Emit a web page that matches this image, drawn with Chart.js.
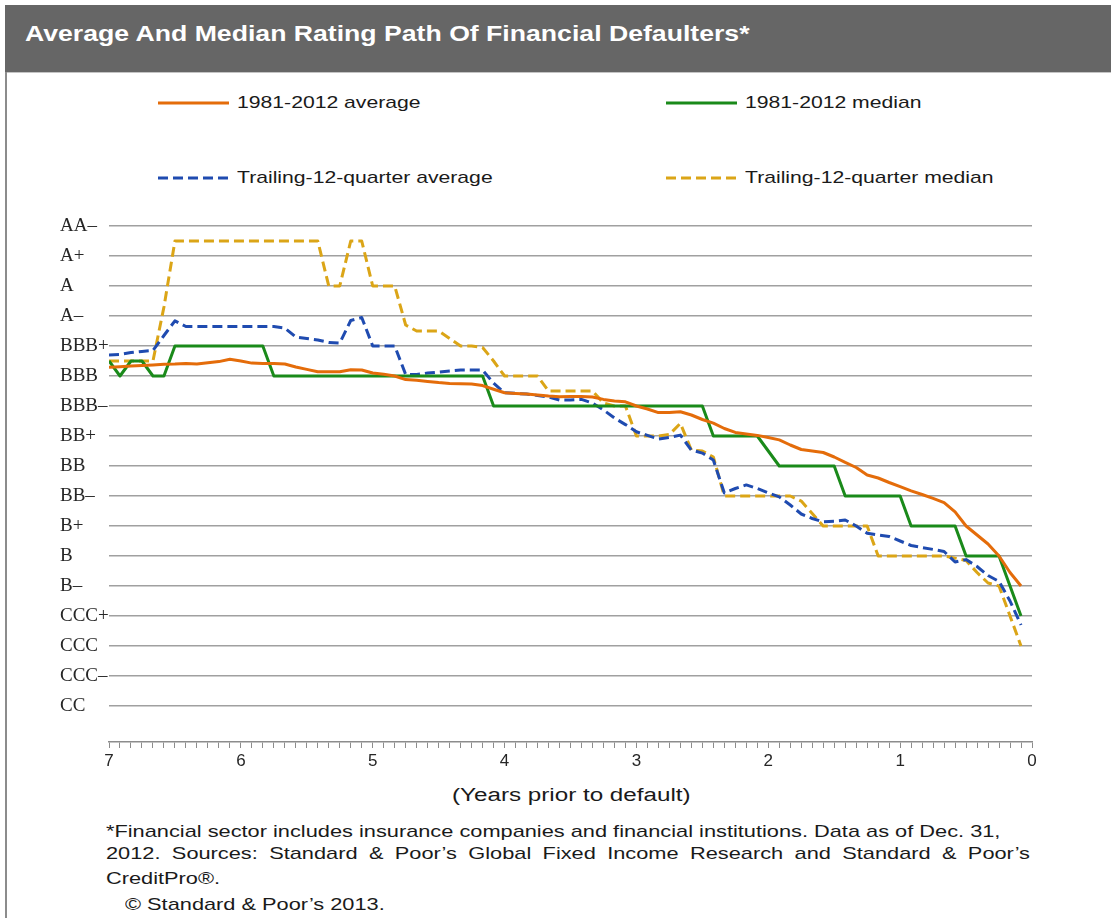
<!DOCTYPE html>
<html>
<head>
<meta charset="utf-8">
<title>Average And Median Rating Path Of Financial Defaulters</title>
<script src="https://cdn.jsdelivr.net/npm/chart.js@4.4.1/dist/chart.umd.min.js"></script>
<style>
    body { margin: 0; background: #fff; font-family: "Liberation Sans", Arial, sans-serif; }
    #page { position: relative; width: 1111px; height: 918px; overflow: hidden; background: #fff; }
    #titleBar { position: absolute; left: 5px; top: 5px; width: 1106px; height: 67px; background: #666666; border-bottom: 1px solid #c4c4c4; }
    #leftRule { position: absolute; left: 5px; top: 72px; width: 2px; height: 846px; background: #8c8c8c; }
    .txt { position: absolute; white-space: nowrap; transform-origin: 0 50%; }
    #titleText { left: 25px; top: 19px; line-height: 30px; font-size: 22px; font-weight: bold; color: #fff; }
    #xTitle { left: 452px; top: 783px; line-height: 24px; font-size: 18px; color: #1a1a1a; }
    .foot { left: 106px; line-height: 22px; font-size: 17px; color: #1a1a1a; }
    #chartCanvas { position: absolute; left: 0; top: 206px; }
    .legendItem { position: absolute; height: 24px; }
    .legendItem svg { position: absolute; left: 0; top: 9px; }
    .legendItem span { position: absolute; top: 0; line-height: 24px; font-size: 17px; color: #1a1a1a; white-space: nowrap; transform-origin: 0 50%; }
</style>
</head>
<body>
<div id="page">
    <div id="titleBar"></div>
    <div id="leftRule"></div>
    <div class="txt" id="titleText">Average And Median Rating Path Of Financial Defaulters*</div>
    <div id="legend"></div>
    <canvas id="chartCanvas" width="1111" height="574"></canvas>
    <div class="txt" id="xTitle">(Years prior to default)</div>
    <div class="txt foot" id="foot1" style="top:821px">*Financial sector includes insurance companies and financial institutions. Data as of Dec. 31,</div>
    <div class="txt foot" id="foot2" style="top:843px; text-align: justify; text-align-last: justify;">2012. Sources: Standard &amp; Poor’s Global Fixed Income Research and Standard &amp; Poor’s</div>
    <div class="txt foot" id="foot3" style="top:868px">CreditPro®.</div>
    <div class="txt foot" id="foot4" style="top:894px; left:125px">© Standard &amp; Poor’s 2013.</div>
</div>
<script>
// Rating path of financial defaulters (S&P, data as of Dec. 31, 2012)

// Rating scale, bottom to top (index = value on the y axis)
const ratingLabels = ['CC', 'CCC–', 'CCC', 'CCC+', 'B–', 'B', 'B+', 'BB–', 'BB', 'BB+',
    'BBB–', 'BBB', 'BBB+', 'A–', 'A', 'A+', 'AA–'];

// X axis tick labels, one per year (12 months)
const yearLabels = ['0', '1', '2', '3', '4', '5', '6', '7'];

// Months prior to default for every point
const monthsPrior = [
    84, 83, 82, 81, 80, 79, 78, 77, 76, 75, 74, 73,
    72, 71, 70, 69, 68, 67, 66, 65, 64, 63, 62, 61,
    60, 59, 58, 57, 56, 55, 54, 53, 52, 51, 50, 49,
    48, 47, 46, 45, 44, 43, 42, 41, 40, 39, 38, 37,
    36, 35, 34, 33, 32, 31, 30, 29, 28, 27, 26, 25,
    24, 23, 22, 21, 20, 19, 18, 17, 16, 15, 14, 13,
    12, 11, 10, 9, 8, 7, 6, 5, 4, 3, 2, 1
];

// 1981-2012 average
const avg8112 = [
    11.29, 11.31, 11.33, 11.35, 11.37, 11.39, 11.40, 11.42, 11.40, 11.44, 11.48, 11.56,
    11.50, 11.43, 11.42, 11.42, 11.40, 11.30, 11.22, 11.14, 11.14, 11.14, 11.21, 11.20,
    11.10, 11.06, 11.00, 10.88, 10.86, 10.82, 10.78, 10.75, 10.74, 10.73, 10.68, 10.56,
    10.44, 10.42, 10.40, 10.37, 10.33, 10.31, 10.32, 10.32, 10.30, 10.22, 10.17, 10.14,
    10.00, 9.90, 9.78, 9.78, 9.81, 9.70, 9.55, 9.43, 9.25, 9.12, 9.07, 9.02,
    8.95, 8.87, 8.70, 8.55, 8.50, 8.45, 8.30, 8.12, 7.95, 7.70, 7.60, 7.45,
    7.31, 7.17, 7.05, 6.92, 6.78, 6.47, 6.00, 5.70, 5.40, 5.00, 4.45, 4.00
];

// 1981-2012 median
const median8112 = [
    11.5, 11, 11.5, 11.5, 11, 11, 12, 12, 12, 12, 12, 12,
    12, 12, 12, 11, 11, 11, 11, 11, 11, 11, 11, 11,
    11, 11, 11, 11, 11, 11, 11, 11, 11, 11, 11, 10,
    10, 10, 10, 10, 10, 10, 10, 10, 10, 10, 10, 10,
    10, 10, 10, 10, 10, 10, 10, 9, 9, 9, 9, 9,
    8.5, 8, 8, 8, 8, 8, 8, 7, 7, 7, 7, 7,
    7, 6, 6, 6, 6, 6, 5, 5, 5, 5, 4, 3
];

// Trailing-12-quarter average
const trailAvg = [
    11.70, 11.72, 11.78, 11.82, 11.85, 12.35, 12.84, 12.65, 12.65, 12.65, 12.65, 12.65,
    12.65, 12.65, 12.65, 12.65, 12.60, 12.30, 12.25, 12.20, 12.12, 12.10, 12.85, 12.95,
    12.00, 12.00, 12.00, 11.05, 11.05, 11.10, 11.13, 11.17, 11.20, 11.20, 11.20, 10.76,
    10.44, 10.42, 10.40, 10.35, 10.30, 10.20, 10.20, 10.22, 10.10, 9.87, 9.60, 9.38,
    9.14, 9.02, 8.90, 8.95, 9.03, 8.53, 8.43, 8.20, 7.10, 7.25, 7.37, 7.25,
    7.10, 6.97, 6.70, 6.40, 6.25, 6.14, 6.16, 6.20, 6.00, 5.76, 5.70, 5.65,
    5.50, 5.35, 5.28, 5.22, 5.15, 4.80, 4.88, 4.65, 4.35, 4.15, 3.50, 2.70
];

// Trailing-12-quarter median
const trailMedian = [
    11.5, 11.5, 11.5, 11.5, 11.5, 13.3, 15.5, 15.5, 15.5, 15.5, 15.5, 15.5,
    15.5, 15.5, 15.5, 15.5, 15.5, 15.5, 15.5, 15.5, 14, 14, 15.5, 15.5,
    14, 14, 14, 12.7, 12.5, 12.5, 12.5, 12.25, 12, 12, 11.95, 11.5,
    11, 11, 11, 11, 10.5, 10.5, 10.5, 10.5, 10.5, 10.1, 10, 10,
    9, 9, 9, 9.05, 9.42, 8.53, 8.5, 8.3, 7, 7, 7, 7,
    7, 7, 7, 6.83, 6.42, 6, 6, 6, 6, 6, 5, 5,
    5, 5, 5, 5, 5, 4.93, 4.85, 4.45, 4.1, 4, 3, 2
];

function toPoints(values) {
    return monthsPrior.map((m, i) => ({ x: m, y: values[i] }));
}

const lineDefaults = {
    pointRadius: 0,
    borderWidth: 3,
    tension: 0,
    fill: false,
    borderJoinStyle: 'round'
};

const chart = new Chart(document.getElementById('chartCanvas').getContext('2d'), {
    type: 'line',
    data: {
        datasets: [
            { ...lineDefaults, label: '1981-2012 average', data: toPoints(avg8112), borderColor: '#E46C0A' },
            { ...lineDefaults, label: '1981-2012 median', data: toPoints(median8112), borderColor: '#1A8A1A' },
            { ...lineDefaults, label: 'Trailing-12-quarter average', data: toPoints(trailAvg), borderColor: '#1F4BB0', borderDash: [10, 5] },
            { ...lineDefaults, label: 'Trailing-12-quarter median', data: toPoints(trailMedian), borderColor: '#DBA517', borderDash: [10, 5] }
        ]
    },
    options: {
        responsive: false,
        animation: false,
        layout: { padding: { top: 20, left: 60, right: 79, bottom: 0 } },
        plugins: {
            legend: { display: false },
            tooltip: { enabled: false }
        },
        scales: {
            x: {
                type: 'linear',
                reverse: true,
                min: 0,
                max: 84,
                afterBuildTicks: (scale) => {
                    // one tick mark per month
                    const ticks = [];
                    for (let m = 0; m <= 84; m++) ticks.push({ value: m });
                    scale.ticks = ticks;
                },
                afterFit: (scale) => { scale.height = 38; },
                ticks: {
                    autoSkip: false,
                    maxRotation: 0,
                    padding: 3,
                    color: '#262626',
                    font: { family: 'Liberation Sans', size: 17 },
                    callback: (value) => (value % 12 === 0 ? yearLabels[value / 12] : '')
                },
                grid: { drawOnChartArea: false, drawTicks: true, tickLength: 6, color: '#8c8c8c', lineWidth: 1 },
                border: { display: true, color: '#8c8c8c', width: 1.5 }
            },
            y: {
                type: 'linear',
                min: -1.2,
                max: 16,
                afterBuildTicks: (scale) => {
                    scale.ticks = ratingLabels.map((_, i) => ({ value: i }));
                },
                afterFit: (scale) => { scale.width = 49; },
                ticks: {
                    crossAlign: 'far',
                    color: '#262626',
                    font: { family: 'Liberation Serif', size: 19 },
                    callback: (value) => ratingLabels[value]
                },
                grid: { color: '#a0a0a0', lineWidth: 1.5, drawTicks: false },
                border: { display: false }
            }
        }
    }
});

// Stretch a text element horizontally to a given width, returns the factor
function stretchTo(el, width) {
    const s = width / el.offsetWidth;
    el.style.transform = `scaleX(${s})`;
    return s;
}

// HTML legend, two columns, two rows
function buildLegend() {
    const legend = document.getElementById('legend');
    const colLeft = [158, 666];
    const rowMid = [103, 178];
    const spans = [];
    chart.data.datasets.forEach((ds, i) => {
        const item = document.createElement('div');
        item.className = 'legendItem';
        item.style.left = colLeft[i % 2] + 'px';
        item.style.top = (rowMid[Math.floor(i / 2)] - 12) + 'px';
        const dash = ds.borderDash ? ds.borderDash.join(' ') : 'none';
        item.innerHTML = `<svg width="71" height="6"><line x1="0" y1="3" x2="71" y2="3" stroke="${ds.borderColor}" stroke-width="3" stroke-dasharray="${dash}"/></svg>`;
        const label = document.createElement('span');
        label.style.left = '79px';
        label.textContent = ds.label;
        item.appendChild(label);
        legend.appendChild(item);
        spans.push(label);
    });
    const s = 183 / spans[0].offsetWidth;
    spans.forEach(sp => { sp.style.transform = `scaleX(${s})`; });
}

buildLegend();
stretchTo(document.getElementById('titleText'), 725);
stretchTo(document.getElementById('xTitle'), 238);

const footScale = stretchTo(document.getElementById('foot1'), 894);
const foot2 = document.getElementById('foot2');
foot2.style.width = (924 / footScale) + 'px';
foot2.style.transform = `scaleX(${footScale})`;
['foot3', 'foot4'].forEach(id => {
    document.getElementById(id).style.transform = `scaleX(${footScale})`;
});
</script>
</body>
</html>
